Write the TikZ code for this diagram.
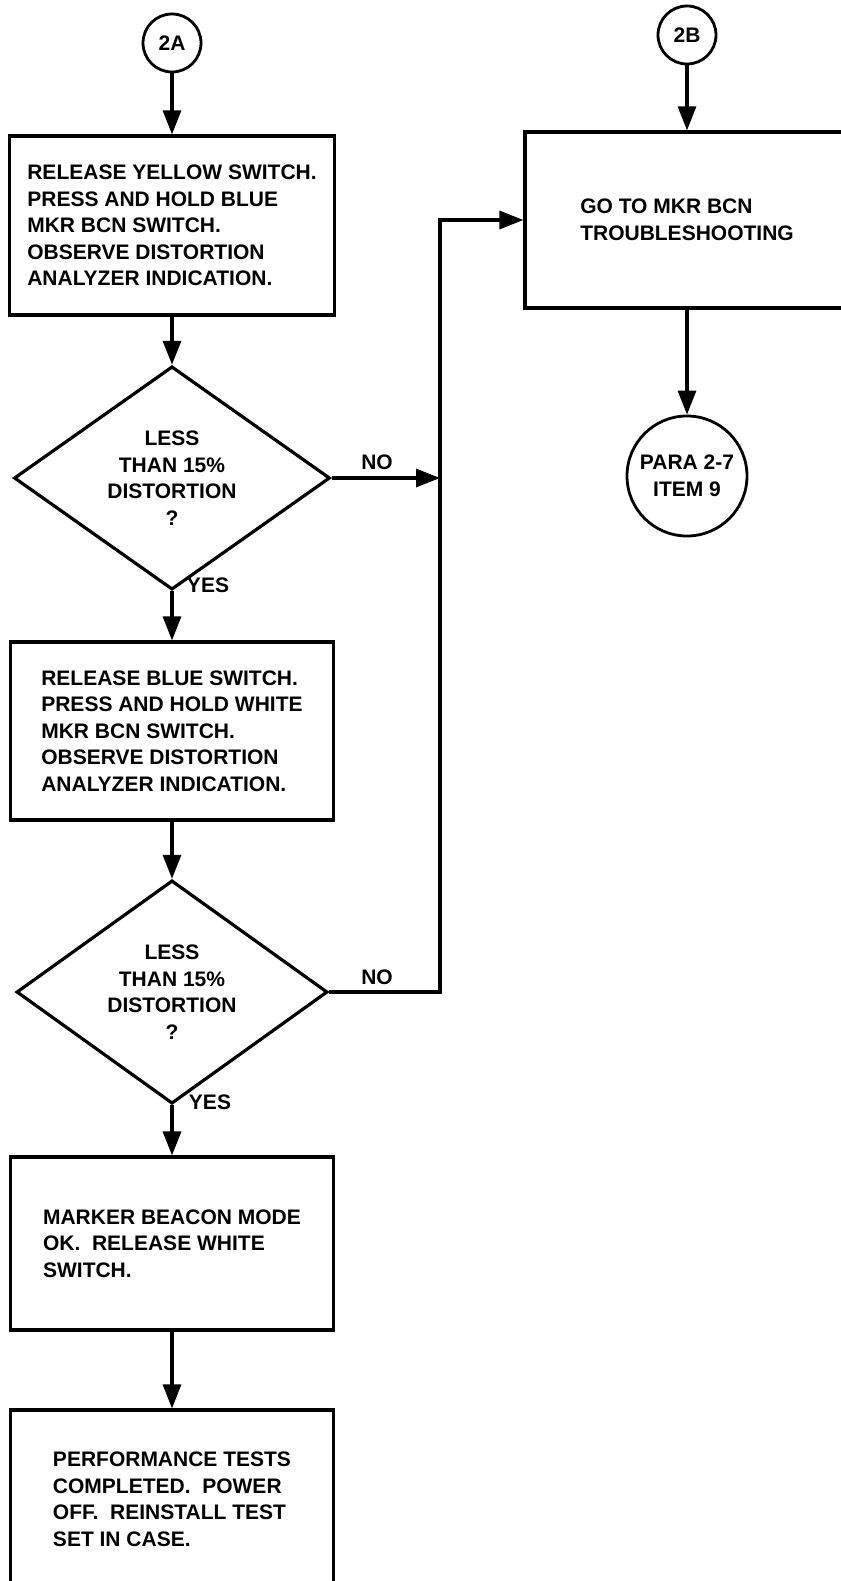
\documentclass[tikz,border=0pt]{standalone}
\usepackage{fontspec}
\setmainfont{Liberation Sans}
\usetikzlibrary{shapes.geometric,arrows.meta}

\begin{document}
\begin{tikzpicture}[x=1pt,y=-1pt,
        chartText/.style={
            font=\bfseries\fontsize{21}{26.5}\selectfont
        },
        stepBox/.style={
            rectangle,
            draw,
            line width=3.2pt,
            minimum width=323pt,
            inner sep=0pt,
            align=left,
            chartText
        },
        testNode/.style={
            diamond,
            draw,
            line width=3.2pt,
            inner sep=0pt,
            align=center,
            chartText
        },
        linkNode/.style={
            circle,
            draw,
            line width=2.8pt,
            inner sep=0pt,
            align=center,
            chartText
        },
        flow/.style={
            line width=3.2pt,
            -{Triangle[length=24pt,width=18pt]}
        },
        line/.style={
            line width=3.2pt
        }
    ]
        \useasboundingbox (0,0) rectangle (840,1581);

        % left column
        \node[linkNode, minimum size=58pt] (inA) at (172,43) {2A};

        \node[stepBox, minimum width=325pt, minimum height=179pt] (step1) at (172,225.5)
            {RELEASE YELLOW SWITCH.\\PRESS AND HOLD BLUE\\MKR BCN SWITCH.\\OBSERVE DISTORTION\\ANALYZER INDICATION.};

        \node[testNode, minimum width=316pt, minimum height=175pt] (test1) at (172,478)
            {LESS\\THAN 15\%\\DISTORTION\\?};

        \node[stepBox, minimum height=178pt] (step2) at (172,731)
            {RELEASE BLUE SWITCH.\\PRESS AND HOLD WHITE\\MKR BCN SWITCH.\\OBSERVE DISTORTION\\ANALYZER INDICATION.};

        \node[testNode, minimum width=311pt, minimum height=173pt] (test2) at (172,992)
            {LESS\\THAN 15\%\\DISTORTION\\?};

        \node[stepBox, minimum height=173pt] (step3) at (172,1243.5)
            {MARKER BEACON MODE\\OK.\ \ RELEASE WHITE\\SWITCH.};

        \node[stepBox, minimum height=200pt, text depth=22pt] (step4) at (172,1510)
            {PERFORMANCE TESTS\\COMPLETED.\ \ POWER\\OFF.\ \ REINSTALL TEST\\SET IN CASE.};

        % right column
        \node[linkNode, minimum size=58pt] (inB) at (687,35) {2B};

        \node[stepBox, minimum width=324pt, minimum height=176pt] (goBox) at (687,220)
            {GO TO MKR BCN\\TROUBLESHOOTING};

        \node[linkNode, minimum size=120pt] (para) at (687,476)
            {PARA 2-7\\ITEM 9};

        \coordinate (bend) at (440,992);

        % connectors
        \draw[flow] (inA) -- (step1);
        \draw[flow] (step1) -- (test1);
        \draw[flow] (test1) -- (step2);
        \draw[flow] (step2) -- (test2);
        \draw[flow] (test2) -- (step3);
        \draw[flow] (step3) -- (step4.north);

        \draw[flow] (test1.east) -- (test1.east -| bend);
        \draw[flow] (test2.east) -- (bend) |- (goBox.west);

        \draw[flow] (inB) -- (goBox);
        \draw[flow] (goBox) -- (para);

        % branch labels
        \node[chartText] (no1) at (377,462) {NO};
        \node[chartText] (no2) at (377,977) {NO};
        \node[chartText] (yes1) at (208,585) {YES};
        \node[chartText] (yes2) at (210,1102) {YES};

    \end{tikzpicture}
\end{document}
